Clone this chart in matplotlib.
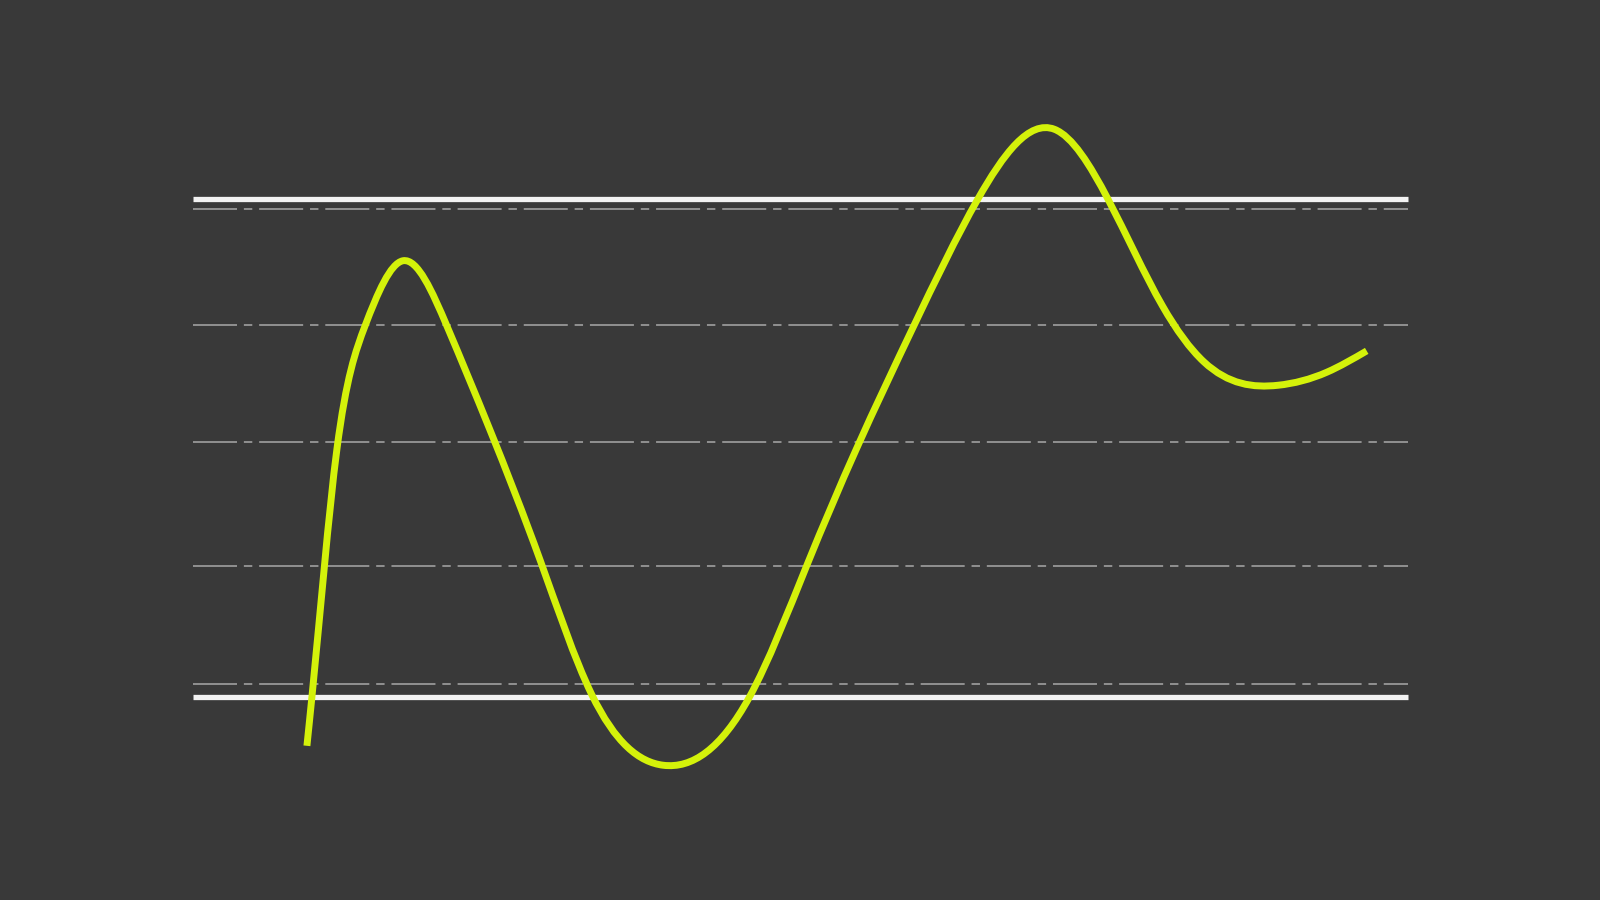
import numpy as np
import matplotlib
matplotlib.use("Agg")
import matplotlib.pyplot as plt
from matplotlib.path import Path
from matplotlib.patches import PathPatch

# ---- data ----
curve_x = [9.38, 9.79, 11.85, 14.16, 17.28, 20.9, 24.4, 28.6, 32.8, 38.7,
           45.8, 50.5, 54.6, 59.3, 64.6, 70.9, 75.3, 79.8, 83.2, 89.3, 93.3, 96.6]
curve_y = [-9.8, 0.0, 49.8, 74.5, 87.6, 74.5, 53.9, 27.3, 0.6, -13.7,
           0.0, 26.3, 49.8, 74.4, 100.0, 114.0, 100.0, 78.5, 67.3, 62.6, 65.2, 69.5]
band_levels = [0, 100]          # solid white lines
grid_levels = [2.6, 26.3, 51.2, 74.6, 98.0]  # dash-dot guides
x_span = [0, 100]

BG = "#393939"
LIME = "#d4f20a"

fig = plt.figure(figsize=(16, 9), dpi=100, facecolor=BG)
ax = fig.add_axes([0, 0, 1, 1])
ax.set_facecolor(BG)
ax.set_xlim(-15.88, 115.8)
ax.set_ylim(-40.76, 139.96)
ax.axis("off")

# dash-dot guide lines
for g in grid_levels:
    ln, = ax.plot(x_span, [g, g], color="#a9a9a9", lw=1.1, zorder=1)
    ln.set_dashes((28.8, 4.5, 5.5, 4.5))
    ln.set_dash_capstyle("butt")

# solid white band lines
for b in band_levels:
    ax.plot(x_span, [b, b], color="#f2f2f2", lw=3.8, solid_capstyle="butt", zorder=2)

# smooth curve: natural cubic spline through the read points, drawn as Bezier path
xs = np.array(curve_x)
ys = np.array(curve_y)
n = len(xs)
h = np.diff(xs)
A = np.zeros((n, n))
r = np.zeros(n)
A[0, 0] = A[-1, -1] = 1.0
for i in range(1, n - 1):
    A[i, i - 1] = h[i - 1]
    A[i, i] = 2 * (h[i - 1] + h[i])
    A[i, i + 1] = h[i]
    r[i] = 6 * ((ys[i + 1] - ys[i]) / h[i] - (ys[i] - ys[i - 1]) / h[i - 1])
M = np.linalg.solve(A, r)

verts = [(xs[0], ys[0])]
codes = [Path.MOVETO]
for i in range(n - 1):
    hi = h[i]
    s = (ys[i + 1] - ys[i]) / hi
    d0 = s - hi * (2 * M[i] + M[i + 1]) / 6
    d1 = s + hi * (M[i] + 2 * M[i + 1]) / 6
    verts += [(xs[i] + hi / 3, ys[i] + d0 * hi / 3),
              (xs[i + 1] - hi / 3, ys[i + 1] - d1 * hi / 3),
              (xs[i + 1], ys[i + 1])]
    codes += [Path.CURVE4] * 3
patch = PathPatch(Path(verts, codes), facecolor="none", edgecolor=LIME,
                  lw=5.0, capstyle="butt", joinstyle="round", zorder=3)
ax.add_patch(patch)

fig.savefig("out.png", dpi=100, facecolor=BG)
